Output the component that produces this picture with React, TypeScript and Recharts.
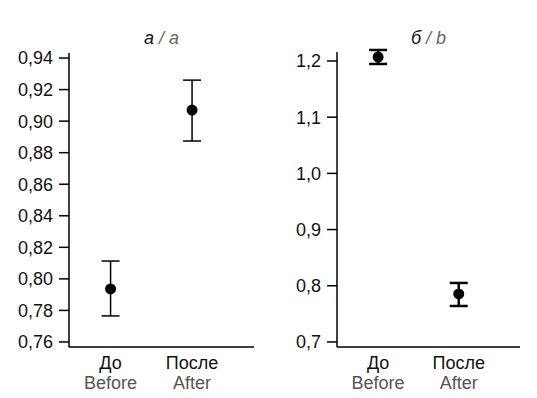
import React from 'react';
import { ScatterChart, Scatter, XAxis, YAxis, ErrorBar } from 'recharts';

// Panel a
const catPos = [1, 2];
const catRu = ['До', 'После'];
const catEn = ['Before', 'After'];
const aMean = [0.7936, 0.907];
const aLow = [0.7765, 0.8874];
const aHigh = [0.8113, 0.926];
const aTicks = [0.76, 0.78, 0.8, 0.82, 0.84, 0.86, 0.88, 0.9, 0.92, 0.94];
// Panel b
const bMean = [1.207, 0.7854];
const bLow = [1.1947, 0.764];
const bHigh = [1.2196, 0.805];
const bTicks = [0.7, 0.8, 0.9, 1.0, 1.1, 1.2];

const FONT = '"Liberation Sans", Arial, sans-serif';

const build = (mean: number[], low: number[], high: number[]) =>
  catPos.map((x, i) => ({ x, y: mean[i], err: [mean[i] - low[i], high[i] - mean[i]] }));

const XTick = (props: any) => {
  const { x, y, payload } = props;
  const i = catPos.indexOf(payload.value);
  return (
    <g>
      <text x={x} y={y + 22} textAnchor="middle" fontSize={18} fontFamily={FONT} fill="#111">
        {catRu[i]}
      </text>
      <text x={x} y={y + 42} textAnchor="middle" fontSize={18} fontFamily={FONT} fill="#555">
        {catEn[i]}
      </text>
    </g>
  );
};

const Dot = (props: any) => <circle cx={props.cx} cy={props.cy} r={5.5} fill="#000" />;

type PanelProps = {
  left: number;
  width: number;
  yAxisW: number;
  top: number;
  bottomH: number;
  rightM: number;
  domain: [number, number];
  ticks: number[];
  digits: number;
  data: any[];
  errStroke: number;
  title1: string;
  title2: string;
};

const Panel = (p: PanelProps) => {
  const plotCenter = p.yAxisW + (p.width - p.yAxisW - p.rightM) / 2;
  return (
    <div style={{ position: 'absolute', left: p.left, top: 0, width: p.width, height: 398 }}>
      <ScatterChart
        width={p.width}
        height={398}
        margin={{ top: p.top, right: p.rightM, bottom: 0, left: 0 }}
      >
        <XAxis
          type="number"
          dataKey="x"
          domain={[0.49, 2.76]}
          ticks={catPos}
          tickLine={false}
          tickSize={0}
          tickMargin={0}
          height={p.bottomH}
          axisLine={{ stroke: '#000', strokeWidth: 1.5 }}
          tick={<XTick />}
          allowDataOverflow
        />
        <YAxis
          type="number"
          dataKey="y"
          domain={p.domain}
          ticks={p.ticks}
          width={p.yAxisW}
          tickSize={10}
          tickMargin={6}
          allowDataOverflow
          axisLine={{ stroke: '#000', strokeWidth: 1.5 }}
          tickLine={{ stroke: '#000', strokeWidth: 1.5 }}
          tick={{ fontSize: 18, fontFamily: FONT, fill: '#111' }}
          tickFormatter={(v: number) => v.toFixed(p.digits).replace('.', ',')}
        />
        <Scatter data={p.data} shape={<Dot />} isAnimationActive={false}>
          <ErrorBar dataKey="err" direction="y" width={9} stroke="#000" strokeWidth={p.errStroke} />
        </Scatter>
        <text x={plotCenter} y={44} textAnchor="middle" fontSize={18} fontFamily={FONT} fontStyle="italic">
          <tspan fill="#111">{p.title1}</tspan>
          <tspan fill="#666">{' / ' + p.title2}</tspan>
        </text>
      </ScatterChart>
    </div>
  );
};

export default function App() {
  return (
    <div style={{ position: 'absolute', left: 0, top: 0, width: 537, height: 398, background: '#fff' }}>
      <Panel
        left={0}
        width={270}
        yAxisW={69}
        top={53}
        bottomH={51}
        rightM={16}
        domain={[0.7568, 0.9432]}
        ticks={aTicks}
        digits={2}
        data={build(aMean, aLow, aHigh)}
        errStroke={1.5}
        title1="а"
        title2="a"
      />
      <Panel
        left={270}
        width={267}
        yAxisW={67}
        top={52}
        bottomH={51}
        rightM={17}
        domain={[0.691, 1.216]}
        ticks={bTicks}
        digits={1}
        data={build(bMean, bLow, bHigh)}
        errStroke={2.5}
        title1="б"
        title2="b"
      />
    </div>
  );
}
